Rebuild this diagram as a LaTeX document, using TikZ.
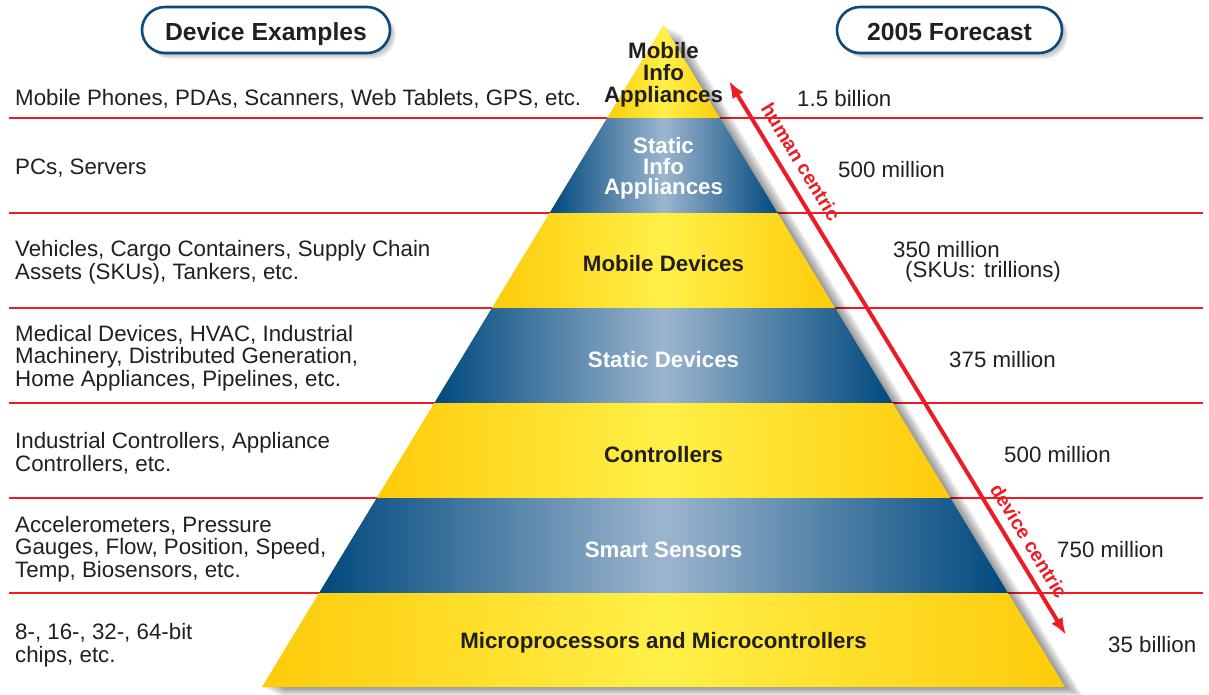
\documentclass[tikz,border=0pt]{standalone}
\usepackage{fontspec}
\setmainfont{Liberation Sans}
\usetikzlibrary{arrows.meta}
\definecolor{txt}{HTML}{231F20}
\definecolor{redl}{HTML}{ED1C24}
\definecolor{gold}{RGB}{254,203,10}
\definecolor{lemon}{RGB}{255,240,72}
\definecolor{navy}{RGB}{0,73,126}
\definecolor{skyb}{RGB}{156,181,206}
\definecolor{boxb}{HTML}{0B4A7C}
\begin{document}
\begin{tikzpicture}[x=1pt,y=-1pt,
  lefttxt/.style={anchor=west,align=left,inner sep=0pt,text=txt,font=\fontsize{22.3}{22.7}\selectfont},
  righttxt/.style={anchor=west,align=left,inner sep=0pt,text=txt,font=\fontsize{22.3}{20}\selectfont},
  darklbl/.style={align=center,inner sep=0pt,text=txt,font=\fontsize{22.3}{22}\selectfont\bfseries},
  lightlbl/.style={align=center,inner sep=0pt,text=white,font=\fontsize{22.3}{20.5}\selectfont\bfseries},
  yband/.style={left color=gold,right color=gold,middle color=lemon},
  bband/.style={left color=navy,right color=navy,middle color=skyb},
  sepline/.style={draw=redl,line width=1.8pt},
  hdrbox/.style={draw=boxb,line width=2.6pt,fill=white,rounded corners=23pt,inner sep=0pt,
     text=txt,font=\fontsize{24.7}{26}\selectfont\bfseries,minimum height=46pt,
     text height=22pt,text depth=2pt},
  centric/.style={inner sep=0pt,text=redl,font=\fontsize{19.5}{20}\selectfont\bfseries,rotate=-58.7},
  arrowline/.style={draw=redl,line width=4pt,{Latex[length=17pt,width=13pt]}-{Latex[length=17pt,width=13pt]}},
]
\useasboundingbox[fill=white] (0,0) rectangle (1209,694);

% pyramid corner coordinates
\coordinate (apex) at (663.5,25);
\coordinate (l1) at (607.1,118); \coordinate (r1) at (719.9,118);
\coordinate (l2) at (549.5,213); \coordinate (r2) at (777.5,213);
\coordinate (l3) at (491.9,308); \coordinate (r3) at (835.1,308);
\coordinate (l4) at (434.3,403); \coordinate (r4) at (892.7,403);
\coordinate (l5) at (376.7,498); \coordinate (r5) at (950.3,498);
\coordinate (l6) at (319.0,593); \coordinate (r6) at (1008.0,593);
\coordinate (l7) at (262.0,687); \coordinate (r7) at (1065.0,687);

% red separator lines
\foreach \yy in {118,213,308,403,498,593}
  \draw[sepline] (9,\yy) -- (1203,\yy);

% pyramid shadow
\foreach \i in {1,...,9}
  \fill[black,opacity=0.05] ([shift={(2*\i,\i)}]apex) -- ([shift={(2*\i,\i)}]r7) -- ([shift={(2*\i,\i)}]l7) -- cycle;

% pyramid bands
\shade[yband] (apex) -- (r1) -- (l1) -- cycle;
\shade[bband] (l1) -- (r1) -- (r2) -- (l2) -- cycle;
\shade[yband] (l2) -- (r2) -- (r3) -- (l3) -- cycle;
\shade[bband] (l3) -- (r3) -- (r4) -- (l4) -- cycle;
\shade[yband] (l4) -- (r4) -- (r5) -- (l5) -- cycle;
\shade[bband] (l5) -- (r5) -- (r6) -- (l6) -- cycle;
\shade[yband] (l6) -- (r6) -- (r7) -- (l7) -- cycle;

% band labels
\node[darklbl] (mia) at (663.5,75) {Mobile\\Info\\Appliances};
\node[lightlbl] (sia) at (663.5,168.5) {Static\\Info\\Appliances};
\node[darklbl] (md) at (663.5,264) {Mobile Devices};
\node[lightlbl] (sd) at (663.5,360) {Static Devices};
\node[darklbl] (ctl) at (663.5,455) {Controllers};
\node[lightlbl] (ss) at (663.5,550) {Smart Sensors};
\node[darklbl] (mpc) at (663.5,643) {Microprocessors and Microcontrollers};

% header boxes with shadows
\foreach \i in {1,...,6}{
  \fill[black,opacity=0.05,rounded corners=23pt] (142+\i,7+\i) rectangle (390+\i,53+\i);
  \fill[black,opacity=0.05,rounded corners=23pt] (837+\i,7+\i) rectangle (1062+\i,53+\i);
}
\node[hdrbox,minimum width=248pt] (devhdr) at (266,30) {Device Examples};
\node[hdrbox,minimum width=225pt] (forehdr) at (949.5,30) {2005 Forecast};

% left device examples
\node[lefttxt] (e1) at (15,99) {Mobile Phones, PDAs, Scanners, Web Tablets, GPS, etc.};
\node[lefttxt] (e2) at (15,168) {PCs, Servers};
\node[lefttxt] (e3) at (15,262) {Vehicles, Cargo Containers, Supply Chain\\Assets (SKUs), Tankers, etc.};
\node[lefttxt] (e4) at (15,358) {Medical Devices, HVAC, Industrial\\Machinery, Distributed Generation,\\Home Appliances, Pipelines, etc.};
\node[lefttxt] (e5) at (15,453.5) {Industrial Controllers, Appliance\\Controllers, etc.};
\node[lefttxt] (e6) at (15,549) {Accelerometers, Pressure\\Gauges, Flow, Position, Speed,\\Temp, Biosensors, etc.};
\node[lefttxt] (e7) at (15,645.5) {8-, 16-, 32-, 64-bit\\chips, etc.};

% right forecast
\node[righttxt] (f1) at (797,99) {1.5 billion};
\node[righttxt] (f2) at (838,170) {500 million};
\node[righttxt] (f3) at (893,262) {350 million\\\hspace*{12pt}(SKUs: trillions)};
\node[righttxt] (f4) at (949,360) {375 million};
\node[righttxt] (f5) at (1004,455) {500 million};
\node[righttxt] (f6) at (1057,550) {750 million};
\node[righttxt] (f7) at (1108,645) {35 billion};

% centric arrow
\coordinate (atop) at (729,81);
\coordinate (abot) at (1066,635);
\draw[arrowline] (atop) -- (abot);
\node[centric] (hc) at (801,162) {human centric};
\node[centric] (dc) at (1029,541) {device centric};
\end{tikzpicture}
\end{document}
